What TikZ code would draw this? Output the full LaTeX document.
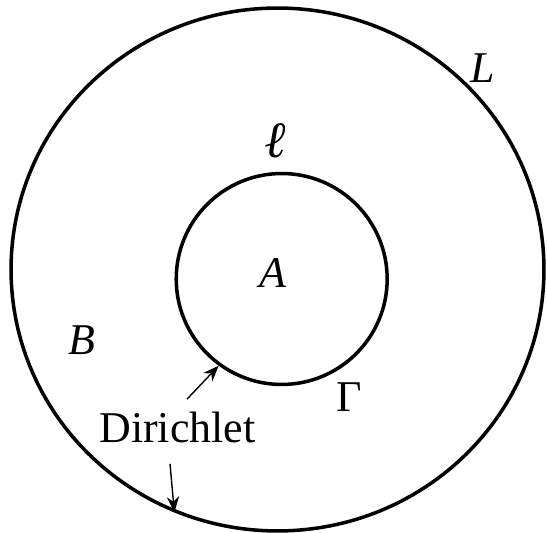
\documentclass[tikz,border=0pt]{standalone}
\usepackage{fontspec}
\setmainfont{Liberation Serif}
\usetikzlibrary{shapes.geometric, arrows.meta, positioning, calc}

\begin{document}
\begin{tikzpicture}[
    x=0.02cm, y=0.02cm,
    bound/.style={draw, line width=2pt, inner sep=0pt},
    lbl/.style={font=\fontsize{25}{30}\selectfont, inner sep=0pt},
    dirarrow/.style={-{Stealth[length=9pt, width=7pt]}, line width=0.8pt}
  ]
  \useasboundingbox (0,0) rectangle (547,533);

  % Boundaries L and Gamma
  \node[bound, ellipse, minimum width=10.66cm, minimum height=10.46cm] (outer) at (277.5,263.5) {};
  \node[bound, circle, minimum size=4.22cm] (inner) at (281.7,254) {};

  % Region and curve labels
  \node[lbl] (Llab) at (483,465) {\textit{L}};
  \node[lbl, font=\fontsize{29}{34}\selectfont\bfseries\itshape] (ell) at (276,392) {ℓ};
  \node[lbl] (Alab) at (273,260) {\textit{A}};
  \node[lbl] (Blab) at (81.5,193) {\textit{B}};
  \node[lbl] (Gam) at (349,136) {Γ};

  % Dirichlet condition on both boundaries
  \node[lbl, anchor=base] (dir) at (177.5,90) {Dirichlet};
  \draw[dirarrow] ([shift={(9.5,13)}]dir.north) -- (inner.234);
  \draw[dirarrow] ([shift={(-7.5,-20)}]dir.south) -- (outer.247);
\end{tikzpicture}
\end{document}
